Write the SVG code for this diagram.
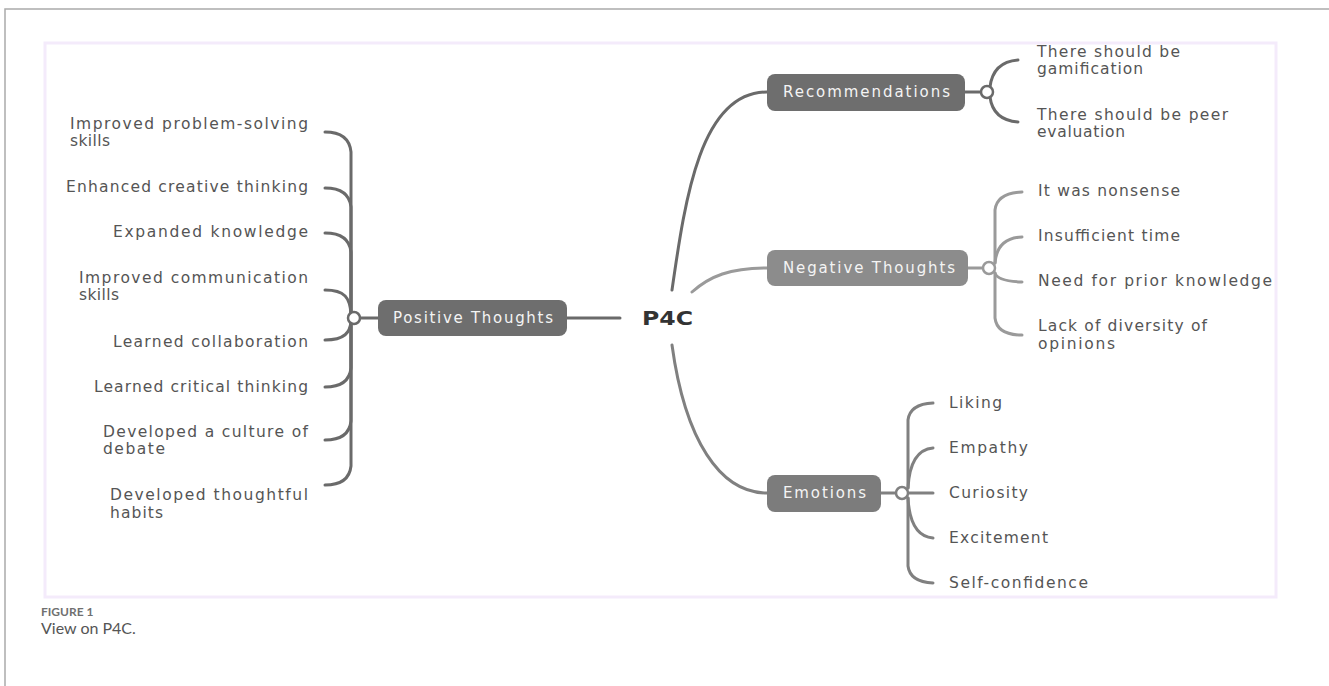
<svg xmlns="http://www.w3.org/2000/svg" width="1329" height="686" viewBox="0 0 1329 686">
<style>
.leaf{font-family:"DejaVu Sans","Open Sans",sans-serif;font-size:15.5px;fill:#555}
.lbl{font-family:"DejaVu Sans","Open Sans",sans-serif;font-size:15px;fill:#f4f4f4}
.dk{fill:none;stroke:#6a6a6a;stroke-width:3;stroke-linecap:round}
.md{fill:none;stroke:#808080;stroke-width:3;stroke-linecap:round}
.lt{fill:none;stroke:#9a9a9a;stroke-width:3;stroke-linecap:round}
.hub{fill:#fff;stroke-width:2.5}
</style>
<rect width="1329" height="686" fill="#fff"/>
<path d="M5 686 V9 H1329" fill="none" stroke="#aaa" stroke-width="1.5"/>
<rect x="45" y="43" width="1231" height="554" fill="none" stroke="#f4ebfb" stroke-width="3"/>

<g id="connectors">
  <path class="dk" d="M672 290 C685 200 700 92 767 92"/>
  <path class="lt" d="M692 292 C710 276 730 268 767 268"/>
  <path class="md" d="M672 345 C685 440 720 493 767 493"/>
  <path class="dk" d="M567 318 H620"/>
  <path class="dk" d="M378 318 H359"/>
  <path class="dk" d="M965 92 H981"/>
  <path class="lt" d="M968 268 H983"/>
  <path class="md" d="M881 493 H896"/>
  <path class="dk" d="M351 314 V152 Q349 132 325 132"/>
  <path class="dk" d="M351 314 V207 Q349 188 325 188"/>
  <path class="dk" d="M351 314 V252 Q349 233 325 233"/>
  <path class="dk" d="M351 314 C350 298 345 290 325 290"/>
  <path class="dk" d="M351 322 C350 332 345 340 325 340"/>
  <path class="dk" d="M351 322 V368 Q349 387 325 387"/>
  <path class="dk" d="M351 322 V421 Q349 440 325 440"/>
  <path class="dk" d="M351 322 V466 Q349 485 325 485"/>
  <path class="dk" d="M990 87 Q993 62 1018 60"/>
  <path class="dk" d="M990 97 Q993 120 1018 122"/>
  <path class="lt" d="M995 263 V210 Q997 193 1022 192"/>
  <path class="lt" d="M995 263 Q997 238 1022 237"/>
  <path class="lt" d="M995 273 Q997 281 1022 282"/>
  <path class="lt" d="M995 273 V318 Q997 335 1022 335"/>
  <path class="md" d="M908 488 V420 Q910 404 933 403"/>
  <path class="md" d="M908 488 Q910 450 933 448"/>
  <path class="md" d="M908 493 H933"/>
  <path class="md" d="M908 498 Q910 536 933 538"/>
  <path class="md" d="M908 498 V566 Q910 582 933 583"/>
  <circle class="hub" cx="354" cy="318" r="6" stroke="#6a6a6a"/>
  <circle class="hub" cx="987" cy="92" r="6" stroke="#6a6a6a"/>
  <circle class="hub" cx="989" cy="268" r="6" stroke="#9a9a9a"/>
  <circle class="hub" cx="902" cy="493" r="6" stroke="#808080"/>
</g>

<g id="p4c"><text x="642" y="325" font-family="'DejaVu Sans',sans-serif" font-size="20" font-weight="bold" fill="#333" textLength="51" lengthAdjust="spacingAndGlyphs">P4C</text></g>

<g id="positive">
  <rect x="378" y="300" width="189" height="36" rx="8" fill="#6e6e6e"/>
  <text class="lbl" x="393" y="323" textLength="160" lengthAdjust="spacing">Positive Thoughts</text>
</g>
<g id="recommendations">
  <rect x="767" y="74" width="198" height="37" rx="8" fill="#6e6e6e"/>
  <text class="lbl" x="783" y="97" textLength="167" lengthAdjust="spacing">Recommendations</text>
</g>
<g id="negative">
  <rect x="767" y="250" width="201" height="36" rx="8" fill="#8c8c8c"/>
  <text class="lbl" x="783" y="273" textLength="172" lengthAdjust="spacing">Negative Thoughts</text>
</g>
<g id="emotions">
  <rect x="767" y="475" width="114" height="37" rx="8" fill="#7c7c7c"/>
  <text class="lbl" x="783" y="498" textLength="83" lengthAdjust="spacing">Emotions</text>
</g>

<g id="pos-1"><text class="leaf" x="70" y="129" textLength="238" lengthAdjust="spacing">Improved problem-solving</text><text class="leaf" x="70" y="146" textLength="40" lengthAdjust="spacing">skills</text></g>
<g id="pos-2"><text class="leaf" x="66" y="192" textLength="242" lengthAdjust="spacing">Enhanced creative thinking</text></g>
<g id="pos-3"><text class="leaf" x="113" y="237" textLength="195" lengthAdjust="spacing">Expanded knowledge</text></g>
<g id="pos-4"><text class="leaf" x="79" y="283" textLength="229" lengthAdjust="spacing">Improved communication</text><text class="leaf" x="79" y="300" textLength="40" lengthAdjust="spacing">skills</text></g>
<g id="pos-5"><text class="leaf" x="113" y="347" textLength="195" lengthAdjust="spacing">Learned collaboration</text></g>
<g id="pos-6"><text class="leaf" x="94" y="392" textLength="214" lengthAdjust="spacing">Learned critical thinking</text></g>
<g id="pos-7"><text class="leaf" x="103" y="437" textLength="205" lengthAdjust="spacing">Developed a culture of</text><text class="leaf" x="103" y="454" textLength="62" lengthAdjust="spacing">debate</text></g>
<g id="pos-8"><text class="leaf" x="110" y="500" textLength="198" lengthAdjust="spacing">Developed thoughtful</text><text class="leaf" x="110" y="518" textLength="53" lengthAdjust="spacing">habits</text></g>

<g id="rec-1"><text class="leaf" x="1037" y="57" textLength="143" lengthAdjust="spacing">There should be</text><text class="leaf" x="1037" y="74" textLength="106" lengthAdjust="spacing">gamification</text></g>
<g id="rec-2"><text class="leaf" x="1037" y="120" textLength="191" lengthAdjust="spacing">There should be peer</text><text class="leaf" x="1037" y="137" textLength="88" lengthAdjust="spacing">evaluation</text></g>

<g id="neg-1"><text class="leaf" x="1038" y="196" textLength="142" lengthAdjust="spacing">It was nonsense</text></g>
<g id="neg-2"><text class="leaf" x="1038" y="241" textLength="142" lengthAdjust="spacing">Insufficient time</text></g>
<g id="neg-3"><text class="leaf" x="1038" y="286" textLength="234" lengthAdjust="spacing">Need for prior knowledge</text></g>
<g id="neg-4"><text class="leaf" x="1038" y="331" textLength="169" lengthAdjust="spacing">Lack of diversity of</text><text class="leaf" x="1038" y="349" textLength="77" lengthAdjust="spacing">opinions</text></g>

<g id="emo-1"><text class="leaf" x="949" y="408" textLength="53" lengthAdjust="spacing">Liking</text></g>
<g id="emo-2"><text class="leaf" x="949" y="453" textLength="79" lengthAdjust="spacing">Empathy</text></g>
<g id="emo-3"><text class="leaf" x="949" y="498" textLength="79" lengthAdjust="spacing">Curiosity</text></g>
<g id="emo-4"><text class="leaf" x="949" y="543" textLength="99" lengthAdjust="spacing">Excitement</text></g>
<g id="emo-5"><text class="leaf" x="949" y="588" textLength="139" lengthAdjust="spacing">Self-confidence</text></g>

<g id="caption">
  <text x="41" y="616" font-family="Lato,sans-serif" font-size="12" font-weight="bold" fill="#707070">FIGURE 1</text>
  <text x="41" y="634" font-family="Lato,sans-serif" font-size="16" fill="#555">View on P4C.</text>
</g>
</svg>
